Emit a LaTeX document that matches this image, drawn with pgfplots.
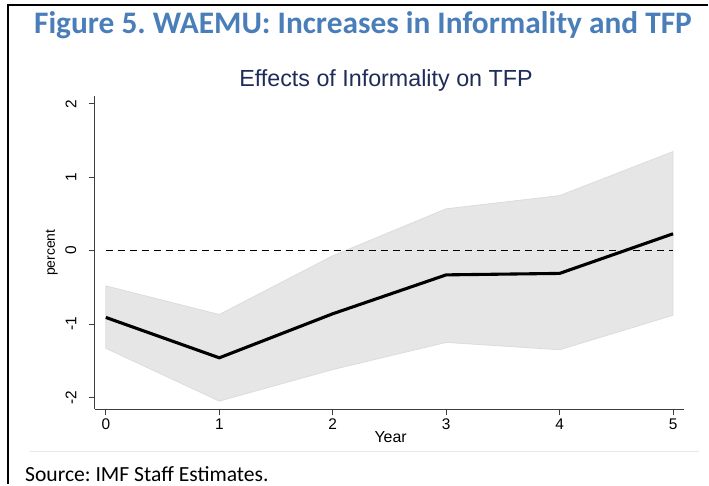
\documentclass[border=0pt]{standalone}
\usepackage{fontspec}
\setmainfont{Liberation Sans}
\newfontfamily\calibri{Carlito}
\usepackage{pgfplots}
\pgfplotsset{compat=1.18}
\definecolor{titleblue}{RGB}{74,126,185}
\definecolor{navy}{RGB}{32,44,88}
\definecolor{bandgray}{RGB}{230,230,230}
\definecolor{bandedge}{RGB}{220,220,220}
\definecolor{axisgray}{RGB}{60,60,60}
\definecolor{lightline}{RGB}{225,233,236}

\begin{document}
\frenchspacing
\begin{tikzpicture}[x=1bp,y=1bp]
\path (0,0) rectangle (709,485);
\draw[line width=2bp] (8,480) -- (709,480);
\draw[line width=2bp] (8,481) -- (8,0);
\draw[color=lightline, line width=0.8bp] (30,33) -- (700,33);
\node[anchor=base west, inner sep=0, text=titleblue, font=\calibri\bfseries\fontsize{31.5}{36}\selectfont] at (34,451) {Figure 5. WAEMU: Increases in Informality and TFP};
\node[anchor=base west, inner sep=0, font=\calibri\fontsize{21.7}{26}\selectfont] at (25,3) {Source: IMF Staff Estimates.};
\node[anchor=base, inner sep=0, text=navy, font=\fontsize{23.4}{27}\selectfont] at (386.5,398) {Effects of Informality on TFP};
\begin{axis}[at={(95bp,75bp)}, anchor=south west, scale only axis,
  width=590bp, height=314bp,
  xmin=-0.0968, xmax=5.097, ymin=-2.163, ymax=2.109,
  axis lines*=left,
  axis line style={axisgray, line width=0.8bp, -},
  tick style={axisgray, line width=0.8bp},
  tick align=outside, major tick length=6bp,
  xtick={0,1,2,3,4,5}, xticklabels={0,1,2,3,4,5},
  ytick={-2,-1,0,1,2}, yticklabels={-2,-1,0,1,2},
  ticklabel style={font=\fontsize{15.5}{15.5}\selectfont},
  yticklabel style={rotate=90, anchor=south},
  yticklabel shift=9bp,
  xlabel={Year}, ylabel={percent},
  xlabel style={font=\fontsize{16}{16}\selectfont, at={(axis description cs:0.502,-0.089)}, anchor=center},
  ylabel style={font=\fontsize{14}{14}\selectfont, at={(axis description cs:-0.073,0.5)}, anchor=center},
  clip=false,
]
\addplot[fill=bandgray, draw=bandedge, line width=0.8bp] coordinates {
  (0,-0.48) (1,-0.87) (2,-0.07) (3,0.57) (4,0.75) (5,1.35)
  (5,-0.88) (4,-1.35) (3,-1.25) (2,-1.62) (1,-2.05) (0,-1.33) (0,-0.48)};
\addplot[black, line width=0.8bp, dash pattern=on 7bp off 5bp] coordinates {(0,0) (5,0)};
\addplot[black, line width=3.1bp] coordinates {
  (0,-0.91) (1,-1.46) (2,-0.86) (3,-0.33) (4,-0.31) (5,0.23)};
\end{axis}
\end{tikzpicture}
\end{document}
